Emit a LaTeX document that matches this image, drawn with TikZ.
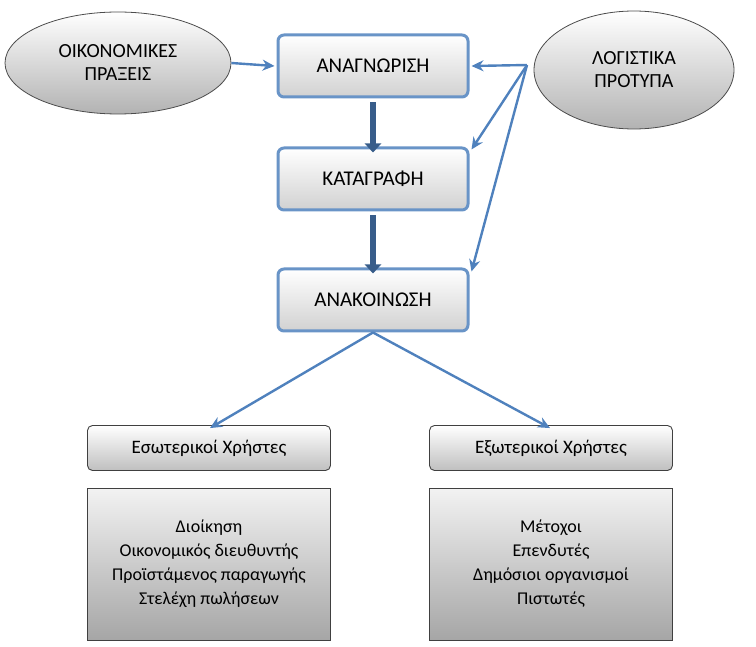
\documentclass[tikz,border=0pt]{standalone}
\usepackage{fontspec}
\setmainfont{Carlito}
\usetikzlibrary{shapes.geometric,arrows.meta}
\definecolor{lineblue}{HTML}{4F81BD}
\definecolor{darkblue}{HTML}{385D8A}
\begin{document}
\begin{tikzpicture}[x=1pt,y=-1pt,
  ell/.style={ellipse,draw=black!70,line width=0.8pt,top color=white,bottom color=black!30,align=center,font=\fontsize{20}{23}\selectfont},
  mainbox/.style={rounded corners=6pt,draw=lineblue!85,line width=3pt,top color=white,bottom color=black!18,minimum width=190pt,minimum height=62pt,font=\fontsize{21}{24}\selectfont},
  userbox/.style={rounded corners=5pt,draw=black!75,line width=0.9pt,top color=white,bottom color=black!25,minimum width=243pt,minimum height=45pt,font=\fontsize{19}{22}\selectfont},
  listbox/.style={draw=black!75,line width=0.9pt,top color=black!5,bottom color=black!35,minimum width=243pt,minimum height=152pt,align=center,font=\fontsize{18}{24}\selectfont},
  thin/.style={-{Stealth[length=12pt,width=11pt]},draw=lineblue,line width=2.4pt},
  thick/.style={-{Triangle[length=9pt,width=16pt]},draw=darkblue,line width=6pt}]
\useasboundingbox (0,0) rectangle (756,647);
\node[ell,minimum width=226pt,minimum height=102pt] (op) at (118,63) {ΟΙΚΟΝΟΜΙΚΕΣ\\ΠΡΑΞΕΙΣ};
\node[ell,minimum width=200pt,minimum height=118pt] (lp) at (634,70) {ΛΟΓΙΣΤΙΚΑ\\ΠΡΟΤΥΠΑ};
\node[mainbox] (a) at (373,66) {ΑΝΑΓΝΩΡΙΣΗ};
\node[mainbox] (k) at (373,179) {ΚΑΤΑΓΡΑΦΗ};
\node[mainbox] (n) at (373,300) {ΑΝΑΚΟΙΝΩΣΗ};
\node[userbox] (es) at (209,448) {Εσωτερικοί Χρήστες};
\node[userbox] (ex) at (551,448) {Εξωτερικοί Χρήστες};
\node[listbox] (l1) at (209,564) {Διοίκηση\\Οικονομικός διευθυντής\\Προϊστάμενος παραγωγής\\Στελέχη πωλήσεων};
\node[listbox] (l2) at (551,564) {Μέτοχοι\\Επενδυτές\\Δημόσιοι οργανισμοί\\Πιστωτές};
\coordinate (s) at (527,65);
\draw[thin] (op.east) -- ([xshift=-2pt]a.east -| a.west);
\draw[thin] (s) -- ([xshift=2pt]a.east);
\draw[thin] (s) -- ([xshift=2pt,yshift=-3pt]k.north east);
\draw[thin] (s) -- ([xshift=2pt,yshift=-4pt]n.north east);
\draw[thick] (a.south) ++(0,4) -- ([yshift=-6pt]k.north);
\draw[thick] (k.south) ++(0,4) -- ([yshift=-6pt]n.north);
\draw[thin] (n.south) -- ([xshift=1pt,yshift=-3pt]es.north);
\draw[thin] (n.south) -- ([xshift=-1pt,yshift=-3pt]ex.north);
\end{tikzpicture}
\end{document}
